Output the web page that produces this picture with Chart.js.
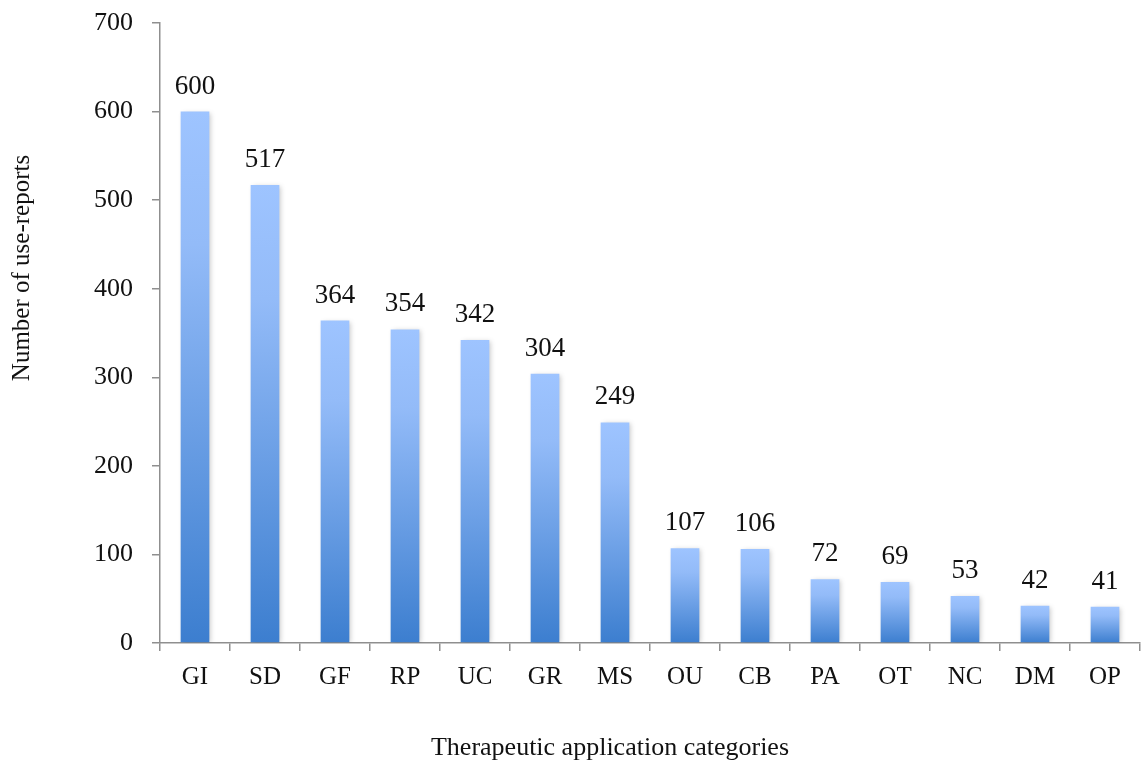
<!DOCTYPE html>
<html>
<head>
<meta charset="utf-8">
<script src="https://cdn.jsdelivr.net/npm/chart.js@4"></script>
<style>
  html, body { margin: 0; padding: 0; background: #fff; }
  #wrap { width: 1141px; height: 765px; }
</style>
</head>
<body>
<div id="wrap"><canvas id="useReports"></canvas></div>
<script>
// Use-reports per therapeutic application category
const categories = ["GI", "SD", "GF", "RP", "UC", "GR", "MS", "OU", "CB", "PA", "OT", "NC", "DM", "OP"];
const useReports = [600, 517, 364, 354, 342, 304, 249, 107, 106, 72, 69, 53, 42, 41];
const yTicks = [0, 100, 200, 300, 400, 500, 600, 700];

const axisGrey = "#8f8f8f";
const serif = "Liberation Serif";

// Each bar gets its own light-to-dark gradient from its top down to zero
function barGradient(context) {
    const chart = context.chart;
    const area = chart.chartArea;
    if (!area || context.parsed == null) return "#6fa0e8";
    const y = chart.scales.y;
    const top = y.getPixelForValue(context.parsed.y);
    const base = y.getPixelForValue(0);
    const g = chart.ctx.createLinearGradient(0, top, 0, base);
    g.addColorStop(0, "#9ec4ff");
    g.addColorStop(0.25, "#93bbf8");
    g.addColorStop(1, "#3c7ecf");
    return g;
}

function drawText(ctx, text, x, y, size, angle) {
    ctx.save();
    ctx.translate(x, y);
    ctx.rotate(angle);
    ctx.font = size + "px '" + serif + "'";
    ctx.fillStyle = "#111";
    ctx.textAlign = "center";
    ctx.textBaseline = "middle";
    ctx.fillText(text, 0, 0);
    ctx.restore();
}

// Soft shadow behind the bars, value labels above them, and the axis titles
const barExtras = {
    id: "barExtras",
    beforeDatasetsDraw(chart) {
        const ctx = chart.ctx;
        ctx.save();
        ctx.shadowColor = "rgba(0,0,0,0.22)";
        ctx.shadowBlur = 5;
        ctx.shadowOffsetX = 2;
        ctx.shadowOffsetY = 1;
    },
    afterDatasetsDraw(chart) {
        const ctx = chart.ctx;
        ctx.restore();
        ctx.save();
        ctx.font = "27px '" + serif + "'";
        ctx.fillStyle = "#111";
        ctx.textAlign = "center";
        ctx.textBaseline = "alphabetic";
        chart.getDatasetMeta(0).data.forEach((bar, i) => {
            ctx.fillText(String(useReports[i]), bar.x, bar.y - 18);
        });
        ctx.restore();
    },
    afterDraw(chart) {
        const ctx = chart.ctx;
        drawText(ctx, "Number of use-reports", 22, 268, 25, -Math.PI / 2);
        drawText(ctx, "Therapeutic application categories", 610, 748, 26, 0);
    }
};

new Chart("useReports", {
    type: "bar",
    data: {
        labels: categories,
        datasets: [{
            label: "Number of use-reports",
            data: useReports,
            backgroundColor: barGradient,
            borderWidth: 0,
            barPercentage: 0.41,
            categoryPercentage: 1.0
        }]
    },
    options: {
        responsive: true,
        maintainAspectRatio: false,
        animation: false,
        layout: { padding: { top: 23, right: 1, left: 0, bottom: 0 } },
        plugins: {
            legend: { display: false },
            tooltip: { enabled: false }
        },
        scales: {
            x: {
                grid: {
                    offset: true,
                    drawOnChartArea: false,
                    drawTicks: true,
                    tickLength: 8,
                    color: axisGrey,
                    lineWidth: 1.5
                },
                border: { color: axisGrey, width: 1.5 },
                ticks: { color: "#111", font: { family: serif, size: 25 }, padding: 11 },
                afterFit(scale) {
                    scale.height = 122;
                    scale.paddingLeft = 0;
                    scale.paddingRight = 0;
                }
            },
            y: {
                min: 0,
                max: 700,
                afterBuildTicks(scale) { scale.ticks = yTicks.map(v => ({ value: v })); },
                grid: {
                    drawOnChartArea: false,
                    drawTicks: true,
                    tickLength: 8,
                    color: axisGrey,
                    lineWidth: 1.5
                },
                border: { color: axisGrey, width: 1.5 },
                ticks: { color: "#111", font: { family: serif, size: 26 }, padding: 19 },
                afterFit(scale) {
                    scale.width = 160;
                    scale.paddingTop = 0;
                    scale.paddingBottom = 0;
                }
            }
        }
    },
    plugins: [barExtras]
});
</script>
</body>
</html>
